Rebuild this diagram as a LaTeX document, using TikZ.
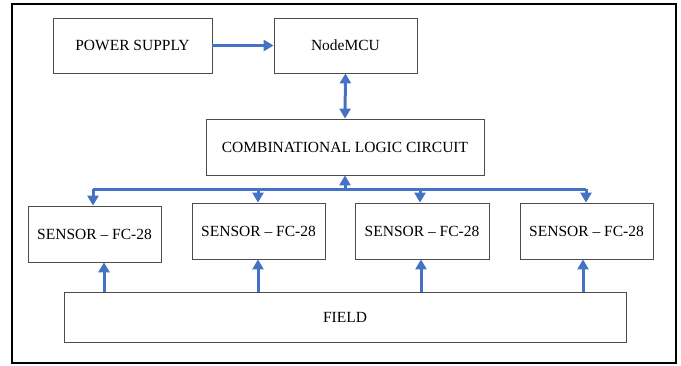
\documentclass[tikz,border=0pt]{standalone}
\usepackage{fontspec}
\setmainfont{Liberation Serif}
\usetikzlibrary{arrows.meta}

\definecolor{linkblue}{RGB}{68,114,196}

\begin{document}
\begin{tikzpicture}[x=1pt,y=-1pt,
    block/.style={rectangle,draw=black!70,line width=0.8pt,inner sep=0pt,
      font=\fontsize{15.5}{18}\selectfont},
    link/.style={draw=linkblue,line width=3pt},
    tip/.style={-{Triangle[length=10pt,width=11pt]}},
    tips/.style={{Triangle[length=10pt,width=11pt]}-{Triangle[length=10pt,width=11pt]}}]

        \useasboundingbox (0,0) rectangle (681,365);
        \draw[line width=1.4pt] (12,4) rectangle (676,363);

        \begin{scope}[every node/.style={block}]
          \node[minimum width=159,minimum height=55] (power) at (132.5,45.5) {POWER SUPPLY};
          \node[minimum width=143,minimum height=55] (mcu)   at (345.5,45.5) {NodeMCU};
          \node[minimum width=278,minimum height=56] (clc)   at (345,147)    {COMBINATIONAL LOGIC CIRCUIT};
          \node[minimum width=133,minimum height=56] (s1)    at (94.5,234)   {SENSOR -- FC-28};
          \node[minimum width=133,minimum height=56] (s2)    at (258.5,231)  {SENSOR -- FC-28};
          \node[minimum width=134,minimum height=56] (s3)    at (422,231)    {SENSOR -- FC-28};
          \node[minimum width=133,minimum height=56] (s4)    at (586.5,231)  {SENSOR -- FC-28};
          \node[minimum width=562,minimum height=50] (field) at (345,317)    {FIELD};
        \end{scope}

        \coordinate (bus) at (345,189);

        \draw[link,tip] (power) -- (mcu);
        \draw[link,tips] (mcu.south) -- (clc.north);
        \draw[link,tip] (bus) -- (clc.south);
        \draw[link] (93,189) -- (586,189);
        \draw[link,tip] (93,189)  -- (s1.north -| 93,0);
        \draw[link,tip] (258,189) -- (s2.north -| 258,0);
        \draw[link,tip] (420,189) -- (s3.north -| 420,0);
        \draw[link,tip] (586,189) -- (s4.north -| 586,0);
        \foreach \x/\s in {104/s1,258/s2,421/s3,583/s4}
          \draw[link,tip] (field.north -| \x,0) -- (\s.south -| \x,0);

      \end{tikzpicture}
\end{document}
